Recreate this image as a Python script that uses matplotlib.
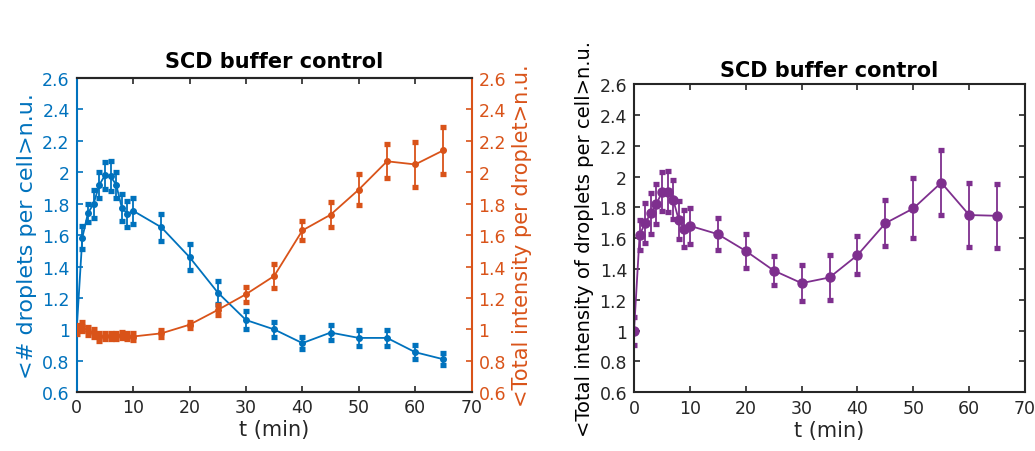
import matplotlib
matplotlib.use("Agg")
import matplotlib.pyplot as plt
from matplotlib.ticker import FormatStrFormatter

plt.rcParams['font.family'] = ['DejaVu Sans']

# time points (min)
t = [0, 1, 2, 3, 4, 5, 6, 7, 8, 9, 10, 15, 20, 25, 30, 35, 40, 45, 50, 55, 60, 65]

# <# droplets per cell>
drop_n = [1.0, 1.585, 1.74, 1.80, 1.92, 1.98, 1.975, 1.92, 1.775, 1.735, 1.755,
          1.65, 1.46, 1.235, 1.06, 1.0, 0.913, 0.98, 0.946, 0.946, 0.855, 0.81]
drop_n_err = [0.0, 0.075, 0.056, 0.09, 0.082, 0.085, 0.096, 0.082, 0.085, 0.082, 0.082,
              0.087, 0.082, 0.072, 0.056, 0.047, 0.04, 0.047, 0.05, 0.05, 0.045, 0.037]

# <Total intensity per droplet>
int_drop = [1.0, 1.02, 0.99, 0.98, 0.95, 0.96, 0.96, 0.96, 0.965, 0.96, 0.955,
            0.975, 1.03, 1.124, 1.224, 1.34, 1.63, 1.73, 1.89, 2.07, 2.05, 2.14]
int_drop_err = [0.03, 0.03, 0.025, 0.025, 0.025, 0.02, 0.02, 0.02, 0.02, 0.02, 0.02,
                0.02, 0.02, 0.03, 0.047, 0.079, 0.06, 0.078, 0.1, 0.107, 0.145, 0.15]

# <Total intensity of droplets per cell>
int_cell = [1.0, 1.62, 1.70, 1.76, 1.82, 1.90, 1.90, 1.85, 1.72, 1.66, 1.68,
            1.626, 1.517, 1.39, 1.308, 1.345, 1.49, 1.697, 1.793, 1.96, 1.75, 1.745]
int_cell_err = [0.091, 0.10, 0.13, 0.133, 0.13, 0.127, 0.133, 0.127, 0.123, 0.12, 0.117,
                0.106, 0.11, 0.093, 0.118, 0.147, 0.124, 0.15, 0.195, 0.21, 0.21, 0.208]

blue = '#0072BD'
orange = '#D95319'
purple = '#7E2F8E'
dark = '#262626'

yt = [0.6, 0.8, 1.0, 1.2, 1.4, 1.6, 1.8, 2.0, 2.2, 2.4, 2.6]

fig = plt.figure(figsize=(10.35, 4.52), dpi=100)
ax1 = fig.add_axes([0.0741, 0.1299, 0.3816, 0.6953])
ax2 = ax1.twinx()
ax3 = fig.add_axes([0.6126, 0.1299, 0.3778, 0.6820])

ax1.errorbar(t, drop_n, yerr=drop_n_err, color=blue, marker='o', ms=4, lw=1.3,
             elinewidth=1.3, capsize=2.2, capthick=3.8)
ax2.errorbar(t, int_drop, yerr=int_drop_err, color=orange, marker='o', ms=4, lw=1.3,
             elinewidth=1.3, capsize=2.2, capthick=3.8)
ax3.errorbar(t, int_cell, yerr=int_cell_err, color=purple, marker='o', ms=6.5, lw=1.3,
             elinewidth=1.3, capsize=2.2, capthick=3.8)

for ax in (ax1, ax2, ax3):
    ax.set_xlim(0, 70)
    ax.set_ylim(0.6, 2.6)
    ax.set_yticks(yt)
    ax.set_xticks(range(0, 71, 10))
    ax.yaxis.set_major_formatter(FormatStrFormatter('%g'))
    for s in ax.spines.values():
        s.set_linewidth(1.5)
        s.set_color(dark)

ax1.tick_params(axis='x', direction='in', top=True, length=4, width=1.2,
                labelsize=12.5, colors=dark, pad=4)
ax1.tick_params(axis='y', direction='in', length=4, width=1.2, labelsize=12.5,
                colors=blue, pad=5)
ax1.spines['left'].set_color(blue)
ax1.spines['right'].set_visible(False)
ax2.spines['right'].set_color(orange)
ax2.spines['left'].set_visible(False)
ax2.tick_params(axis='y', direction='in', length=4, width=1.2, labelsize=12.5,
                colors=orange, pad=5)

ax3.tick_params(direction='in', top=True, right=True, length=4, width=1.2,
                labelsize=12.5, colors=dark, pad=5)

ax1.set_xlabel('t (min)', fontsize=15, color=dark, labelpad=2)
ax3.set_xlabel('t (min)', fontsize=15, color=dark, labelpad=2)
ax1.set_ylabel('<# droplets per cell>n.u.', fontsize=16, color=blue, labelpad=4)
ax2.set_ylabel('<Total intensity per droplet>n.u.', fontsize=15, color=orange, labelpad=4)
ax3.set_ylabel('<Total intensity of droplets per cell>n.u.', fontsize=14, color='black', labelpad=4)

ax1.set_title('SCD buffer control', fontsize=15, fontweight='bold', pad=8)
ax3.set_title('SCD buffer control', fontsize=15, fontweight='bold', pad=6)

fig.savefig('out.png', dpi=100)
